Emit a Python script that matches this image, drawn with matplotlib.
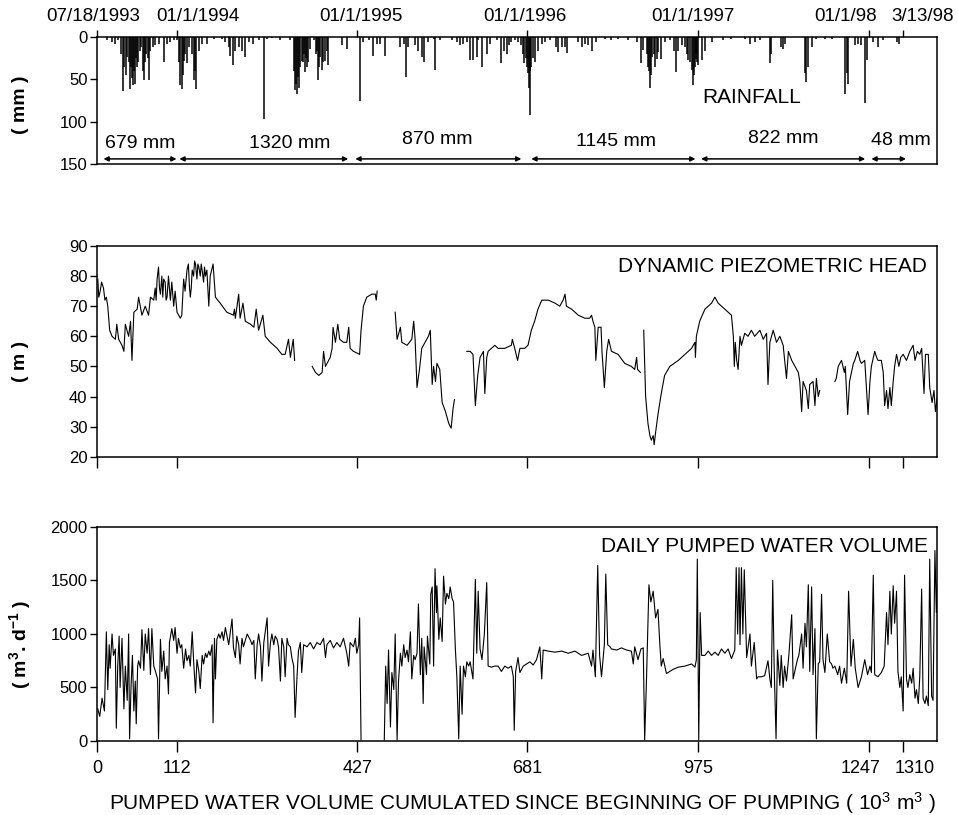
import numpy as np
import matplotlib.pyplot as plt
from matplotlib.transforms import ScaledTranslation

plt.rcParams['font.family'] = ['Liberation Sans', 'DejaVu Sans']
plt.rcParams['mathtext.default'] = 'regular'

# x axis = days since 07/18/1993 (start of pumping)
x_end = 1771
tick_day = [0, 167, 548, 906, 1267, 1627, 1699]
volume_labels = ['0', '112', '427', '681', '975', '1247', '1310']
date_labels = ['07/18/1993', '01/1/1994', '01/1/1995', '01/1/1996', '01/1/1997', '01/1/98', '3/13/98']
date_label_day = [-8, 213, 556, 902, 1256, 1577, 1741]

# daily rainfall events (mm)
rain_day = [20, 31, 38, 43, 54, 57, 63, 68, 71, 75, 79, 84, 89, 98, 103, 108, 112, 117, 122, 129,
            140, 147, 154, 161, 167, 175, 178, 182, 188, 193, 203, 207, 214, 221, 231, 245, 263, 270, 277, 280,
            286, 291, 298, 305, 312, 319, 329, 340, 351, 358, 368, 386, 407, 417, 421, 424, 428, 431, 435, 438,
            442, 449, 456, 463, 466, 470, 473, 480, 484, 487, 515, 526, 554, 561, 572, 582, 589, 596, 607, 639,
            646, 651, 656, 670, 677, 684, 688, 698, 709, 712, 723, 747, 758, 765, 772, 779, 786, 793, 800, 803,
            811, 821, 828, 842, 852, 858, 863, 868, 873, 880, 887, 894, 900, 905, 908, 912, 915, 922, 929, 937,
            944, 954, 968, 972, 979, 987, 991, 1014, 1021, 1028, 1035, 1042, 1052, 1070, 1084, 1098, 1119, 1137, 1147, 1158,
            1161, 1166, 1170, 1175, 1179, 1182, 1188, 1197, 1207, 1216, 1221, 1225, 1232, 1239, 1246, 1253, 1256, 1260, 1263, 1267,
            1274, 1281, 1295, 1319, 1337, 1365, 1376, 1386, 1397, 1418, 1421, 1442, 1446, 1449, 1492, 1495, 1499, 1506, 1516, 1534,
            1548, 1576, 1580, 1583, 1597, 1604, 1611, 1618, 1622, 1636, 1646, 1657, 1685, 1690,
            50, 60, 66, 73, 77, 82, 86, 93, 96, 101, 106, 173, 180, 185, 200, 205, 415, 419, 426, 433,
            440, 445, 460, 468, 476, 898, 903, 910, 913, 918, 1150, 1163, 1168, 1173, 1244, 1250, 1258, 1262, 1265]
rain_mm = [3, 6, 8, 4, 64, 35, 24, 62, 35, 57, 55, 35, 16, 51, 20, 51, 16, 12, 10, 8,
           29, 8, 6, 4, 4, 57, 61, 28, 31, 12, 51, 62, 16, 8, 8, 2, 2, 6, 12, 22,
           33, 16, 12, 16, 24, 6, 8, 4, 97, 2, 1, 4, 3, 63, 67, 47, 35, 28, 20, 41,
           35, 14, 4, 16, 51, 24, 39, 28, 16, 33, 10, 14, 76, 6, 4, 22, 8, 8, 22, 12,
           8, 47, 12, 10, 16, 24, 29, 6, 2, 39, 4, 4, 6, 10, 8, 6, 27, 27, 24, 4,
           35, 20, 8, 4, 31, 16, 20, 10, 6, 4, 6, 10, 31, 35, 43, 92, 35, 29, 16, 8,
           6, 4, 12, 18, 12, 12, 19, 6, 12, 8, 10, 16, 6, 2, 4, 2, 3, 6, 31, 20,
           35, 60, 24, 35, 26, 18, 26, 6, 4, 16, 41, 16, 10, 12, 27, 39, 57, 35, 26, 33,
           27, 16, 6, 3, 2, 2, 8, 6, 4, 31, 20, 12, 14, 8, 43, 53, 35, 12, 2, 2,
           2, 67, 43, 55, 10, 8, 10, 78, 27, 6, 12, 4, 6, 8,
           20, 45, 30, 48, 40, 25, 30, 12, 40, 30, 25, 30, 45, 20, 20, 40, 40, 55, 60, 30,
           25, 30, 20, 35, 30, 20, 25, 60, 40, 25, 15, 40, 45, 20, 20, 30, 45, 20, 30]

# period rainfall totals
period_start = [13, 173, 544, 915, 1273, 1632]
period_end = [167, 529, 894, 1261, 1619, 1705]
period_text = ['679 mm', '1320 mm', '870 mm', '1145 mm', '822 mm', '48 mm']
period_text_day = [91, 405, 717, 1094, 1446, 1695]
period_text_y = [126, 126, 121, 124, 120, 122]

# dynamic piezometric head (m), nan = missing record
piezo_day = [1, 3, 6, 9, 13, 16, 19, 22, 26, 31,
             38, 41, 45, 52, 56, 59, 66, 70, 73, 77,
             84, 87, 94, 101, 108, 112, 119, 122, 124, 126,
             129, 131, 133, 136, 138, 140, 143, 145, 147, 150,
             152, 154, 157, 161, 164, 168, 175, 178, 182, 185,
             189, 192, 194, 196, 198, 200, 203, 205, 207, 210,
             212, 214, 217, 219, 221, 224, 226, 228, 231, 235,
             238, 244, 249, 259, 273, 287, 289, 291, 298, 301,
             307, 312, 323, 330, 335, 340, 349, 354, 365, 379,
             389, 396, 403, 407, 413, 416, 430,
             453, 460, 467, 474, 477, 481, 491, 495, 497, 502, 507, 511, 519, 526, 530, 533, 540, 553, 556, 561,
             568, 579, 586, 588, 590, 610,
             628, 632, 639, 642, 653, 663, 667, 670, 674, 680, 684, 691, 698, 702, 706, 709, 713, 716, 722, 727,
             734, 741, 746, 750, 753, 765,
             779, 786, 792, 797, 802, 807, 814, 817, 821, 824, 831, 838, 845, 859, 873, 875, 880, 886, 891, 901,
             908, 915, 922, 929, 937, 944, 951, 965, 975, 982, 986, 989, 1000, 1014, 1028, 1038, 1042, 1045, 1049, 1051,
             1056, 1062, 1064, 1069, 1074, 1078, 1084, 1098, 1112, 1126, 1133, 1137, 1139, 1145, 1148,
             1152, 1156, 1161, 1165, 1168, 1172, 1174, 1177, 1182, 1189, 1196, 1207, 1225, 1239, 1253, 1260, 1261, 1263, 1270, 1281,
             1295, 1302, 1309, 1323, 1337, 1341, 1343, 1345, 1348, 1351, 1355, 1358, 1365, 1372, 1379, 1386, 1397, 1404, 1411, 1414,
             1418, 1425, 1432, 1439, 1446, 1453, 1457, 1464, 1471, 1478, 1481, 1485, 1488, 1495, 1499, 1502, 1509, 1513, 1516, 1520,
             1523, 1540,
             1555, 1558, 1562, 1569, 1575, 1577, 1582, 1586, 1594, 1597, 1603, 1608, 1611, 1618, 1625, 1629, 1632, 1639, 1643, 1646,
             1653, 1657, 1660, 1664, 1667, 1671, 1674, 1678, 1681, 1685, 1690, 1694, 1699, 1706, 1713, 1720, 1724, 1729, 1734, 1738,
             1743, 1746, 1752, 1755, 1760, 1764, 1767, 1771]
piezo_m = [79, 73, 75, 78, 76, 72, 73, 70, 62, 60,
           59, 64, 59, 57, 55, 64, 60, 65, 52, 68,
           69, 73, 67, 70, 67, 73, 72, 76, 72, 79,
           83, 76, 74, 80, 73, 79, 78, 72, 73, 80,
           76, 72, 78, 70, 75, 68, 66, 67, 79, 75,
           82, 84, 77, 73, 76, 82, 80, 85, 84, 79,
           84, 83, 80, 84, 82, 78, 83, 80, 82, 70,
           80, 84, 73, 71, 68, 67, 69, 66, 74, 66,
           71, 65, 64, 63, 69, 62, 67, 60, 58, 56,
           54, 54, 59, 53, 59, 52, np.nan,
           50, 48, 47, 48, 55, 50, 53, 56, 63, 58, 64, 59, 58, 58, 63, 56, 55, 54, 62, 70,
           73, 74, 74, 72, 75, np.nan,
           68, 59, 63, 58, 57, 59, 65, 59, 43, 50, 56, 58, 60, 62, 44, 50, 45, 51, 49, 38,
           35, 31, 29.5, 36, 39, np.nan,
           55, 55, 54, 37, 47, 53, 55, 41, 53, 55, 56, 57, 56, 56, 57, 59, 56, 52, 56, 56,
           57, 62, 65, 69, 72, 72, 72, 71, 70, 72, 74, 70, 69, 67, 66, 66, 67, 65, 63, 52,
           63, 63, 55, 43, 55, 59, 55, 54, 51, 50, 49, 53, 49, 48, np.nan,
           62, 40, 31, 27, 25.5, 27, 24, 28, 34, 41, 47, 50, 52, 54, 56, 58, 53, 60, 65, 69,
           71, 73, 71, 69, 67, 60, 50, 58, 52, 49, 60, 57, 61, 60, 62, 60, 62, 59, 61, 44,
           58, 62, 58, 60, 57, 46, 55, 52, 50, 48, 45, 35, 45, 42, 36, 44, 45, 37, 46, 40,
           42, np.nan,
           45, 46, 50, 52, 48, 50, 34, 45, 51, 52, 55, 52, 51, 52, 34, 45, 50, 55, 53, 52,
           52, 48, 37, 42, 36, 43, 37, 45, 50, 54, 50, 53, 54, 52, 55, 57, 52, 55, 54, 56,
           41, 54, 54, 43, 38, 42, 35, 40]

# daily pumped water volume (m3/d), nan = missing record
pump_day = [1, 5, 10, 15, 19, 22, 25, 27, 31, 34, 38, 40, 43, 46, 48, 52, 56, 59, 63, 66,
            68, 71, 74, 77, 80, 82, 85, 87, 91, 94, 98, 101, 105, 108, 112, 115, 119, 122, 127, 129,
            133, 136, 140, 143, 147, 150, 152, 157, 161, 164, 168, 171, 175, 178, 182, 186, 189, 193, 196, 200,
            203, 207, 210, 214, 217, 221, 224, 228, 231, 235, 238, 242, 244, 247, 249, 252, 256, 259, 263, 266,
            270, 273, 277, 280, 284, 287, 291, 294, 298, 301, 305, 308, 316, 323, 326, 330, 333, 337, 340, 344,
            347, 351, 358, 361, 365, 368, 372, 375, 379, 382, 386, 389, 393, 396, 400, 403, 407, 410, 414, 417,
            421, 424, 428, 431, 435, 442, 449, 456, 463, 470, 477, 481, 484, 491, 498, 505, 512, 519, 526, 530,
            533, 540, 544, 547, 551, 553, 556, 580,
            605, 608, 611, 614, 618, 621, 625, 628, 632, 635, 639, 642, 646, 649, 653, 656, 660, 663, 667, 670,
            674, 677, 681, 684, 687, 689, 694, 696, 701, 703, 706, 709, 712, 715, 716, 720, 723, 727, 730, 734,
            737, 741, 744, 748, 751, 755, 758, 762, 765, 769, 772, 776, 779, 783, 786, 792, 797, 800,
            803, 807, 811, 816, 821, 824, 831, 838, 845, 852, 859, 866, 873, 877, 879, 882, 887, 891, 898, 905,
            912, 919, 926, 933, 937, 940, 951, 965, 979, 993, 1007, 1021, 1035, 1042, 1045, 1050, 1055, 1059, 1063, 1069,
            1072, 1076, 1081, 1084, 1095, 1105, 1116, 1126, 1130, 1133, 1140, 1146, 1151, 1154, 1158, 1163, 1167, 1172, 1177, 1182,
            1186, 1189, 1193, 1200, 1207, 1214, 1225, 1239, 1253, 1260, 1263, 1265, 1268, 1271, 1274, 1281, 1288, 1295, 1302, 1309,
            1316, 1323, 1330, 1337, 1344, 1347, 1350, 1353, 1355, 1358, 1361, 1364, 1369, 1376, 1379, 1385, 1390, 1393, 1400, 1407,
            1414, 1418, 1421, 1424, 1427, 1431, 1434, 1439, 1442, 1446, 1449, 1453, 1458, 1464, 1467, 1471, 1476, 1479, 1482, 1485,
            1488, 1492, 1495, 1499, 1502, 1506, 1509, 1513, 1516, 1520, 1523, 1527, 1530, 1534, 1539, 1544, 1548, 1551, 1555, 1561,
            1565, 1569, 1575, 1580, 1584, 1589, 1594, 1598, 1604, 1611, 1618, 1624, 1629, 1632, 1636, 1639, 1646, 1653, 1659, 1664,
            1667, 1671, 1674, 1678, 1681, 1685, 1688, 1692, 1695, 1699, 1702, 1706, 1709, 1713, 1717, 1720, 1724, 1727, 1731, 1734,
            1738, 1741, 1745, 1748, 1752, 1755, 1759, 1762, 1766, 1769, 1771]
pump_m3 = [300, 230, 400, 280, 1020, 480, 900, 680, 1000, 800, 860, 120, 700, 980, 500, 960, 300, 700, 380, 1000,
           20, 500, 800, 280, 560, 160, 700, 750, 680, 1040, 660, 1000, 820, 1050, 620, 1050, 700, 660, 580, 20,
           950, 650, 840, 580, 700, 440, 920, 1050, 940, 1060, 820, 960, 870, 900, 680, 860, 750, 800, 700, 1020,
           750, 450, 760, 650, 490, 800, 720, 820, 780, 840, 800, 900, 170, 960, 580, 950, 1000, 960, 1020, 940,
           1060, 990, 900, 1000, 1140, 870, 780, 980, 900, 720, 960, 880, 1000, 940, 900, 940, 580, 900, 1000, 880,
           560, 920, 1150, 700, 920, 1000, 900, 980, 950, 880, 560, 960, 880, 600, 960, 900, 880, 780, 700, 220,
           600, 840, 920, 640, 900, 880, 920, 860, 920, 900, 960, 780, 900, 940, 870, 920, 880, 960, 820, 700,
           920, 880, 960, 820, 900, 1150, 10, np.nan,
           10, 700, 350, 850, 130, 640, 480, 1000, 10, 560, 820, 700, 900, 780, 850, 740, 1020, 580, 800, 760,
           820, 1280, 620, 960, 350, 880, 620, 980, 720, 1370, 1440, 700, 1610, 1200, 1450, 950, 1150, 930, 1540, 1280,
           1380, 1330, 1440, 1330, 1300, 850, 600, 20, 700, 250, 700, 600, 740, 700, 740, 580, 1510, 820,
           1400, 860, 760, 1000, 1480, 700, 690, 700, 700, 650, 700, 680, 700, 600, 100, 650, 780, 640, 700, 720,
           740, 710, 760, 880, 580, 850, 840, 830, 840, 820, 840, 800, 820, 700, 850, 600, 1640, 800, 600, 900,
           1560, 900, 880, 860, 850, 870, 850, 840, 720, 880, 760, 860, 870, 10, 600, 1460, 1300, 1400, 1150, 1230,
           900, 700, 770, 630, 650, 670, 690, 700, 720, 690, 760, 1700, 10, 1200, 800, 800, 840, 800, 830, 800,
           860, 820, 860, 770, 850, 1620, 1000, 1620, 900, 1620, 1000, 1600, 780, 1000, 700, 920, 580, 600, 600, 610,
           750, 580, 500, 1500, 700, 20, 850, 520, 800, 500, 700, 560, 800, 1180, 580, 660, 760, 800, 900, 1000,
           680, 1100, 880, 1460, 650, 1440, 620, 1050, 20, 720, 740, 1370, 760, 640, 1000, 740, 720, 680, 700, 620,
           700, 540, 680, 540, 1400, 700, 950, 680, 500, 600, 760, 620, 700, 640, 1550, 620, 600, 640, 700, 1200,
           900, 1400, 1000, 1450, 1100, 1400, 650, 500, 600, 280, 1550, 580, 500, 620, 540, 680, 400, 480, 350, 600,
           1420, 400, 350, 420, 330, 1700, 420, 380, 1780, 1200, 1500]

fig = plt.figure(figsize=(9.58, 8.15), dpi=100)
ax1 = fig.add_axes([0.1016, 0.7988, 0.8768, 0.1558])
ax2 = fig.add_axes([0.1016, 0.4396, 0.8768, 0.2586])
ax3 = fig.add_axes([0.1016, 0.0908, 0.8768, 0.2626])

for ax in (ax1, ax2, ax3):
    ax.set_xlim(0, x_end)
    ax.set_xticks(tick_day)
    for s in ax.spines.values():
        s.set_linewidth(1.1)
    ax.tick_params(axis='y', direction='out', length=5, width=1.0, labelsize=12, pad=2)
    ax.tick_params(axis='x', direction='out', length=8, width=1.0, labelsize=13, pad=6)

# 1. rainfall
ax1.vlines(rain_day, 0, rain_mm, color='black', lw=1.1)
ax1.set_ylim(150, 0)
ax1.set_yticks([0, 50, 100, 150])
ax1.tick_params(axis='x', top=True, bottom=False, labelbottom=False, labeltop=False, length=5)
for d, lab in zip(date_label_day, date_labels):
    ax1.text(d, -24, lab, ha='center', va='center', fontsize=13.5, clip_on=False)
for x0, x1, t, tx, ty in zip(period_start, period_end, period_text, period_text_day, period_text_y):
    ax1.annotate('', xy=(x1, 144), xytext=(x0, 144),
                 arrowprops=dict(arrowstyle='<|-|>', lw=1.1, color='black',
                                 mutation_scale=7, shrinkA=0, shrinkB=0))
    ax1.text(tx, ty, t, ha='center', va='center', fontsize=14)
ax1.text(1379, 71, 'RAINFALL', ha='center', va='center', fontsize=15)

# 2. piezometric head
ax2.plot(piezo_day, piezo_m, color='black', lw=0.8)
ax2.set_ylim(20, 90)
ax2.set_yticks(range(20, 91, 10))
ax2.tick_params(axis='x', labelbottom=False)
ax2.text(1748, 83.3, 'DYNAMIC PIEZOMETRIC HEAD', ha='right', va='center', fontsize=15)

# 3. pumped volume
ax3.plot(pump_day, pump_m3, color='black', lw=0.8)
ax3.set_ylim(0, 2000)
ax3.set_yticks(range(0, 2001, 500))
ax3.set_xticklabels(volume_labels)
# the last two labels sit apart from their ticks, as in the original
xlabels = ax3.get_xticklabels()
xlabels[5].set_transform(xlabels[5].get_transform() + ScaledTranslation(-8 / 100, 0, fig.dpi_scale_trans))
xlabels[6].set_transform(xlabels[6].get_transform() + ScaledTranslation(12 / 100, 0, fig.dpi_scale_trans))
ax3.text(1752, 1813, 'DAILY PUMPED WATER VOLUME', ha='right', va='center', fontsize=15)

fig.text(0.021, 0.871, '( mm )', rotation=90, ha='center', va='center', fontsize=14, fontweight='bold')
fig.text(0.021, 0.556, '( m )', rotation=90, ha='center', va='center', fontsize=14, fontweight='bold')
fig.text(0.021, 0.209, '( m$^{3}$. d$^{-1}$ )', rotation=90, ha='center', va='center', fontsize=14, fontweight='bold')
fig.text(0.545, 0.0147, 'PUMPED WATER VOLUME CUMULATED SINCE BEGINNING OF PUMPING ( 10$^{3}$ m$^{3}$ )',
         ha='center', va='center', fontsize=15)

fig.savefig('out.png', dpi=100)
